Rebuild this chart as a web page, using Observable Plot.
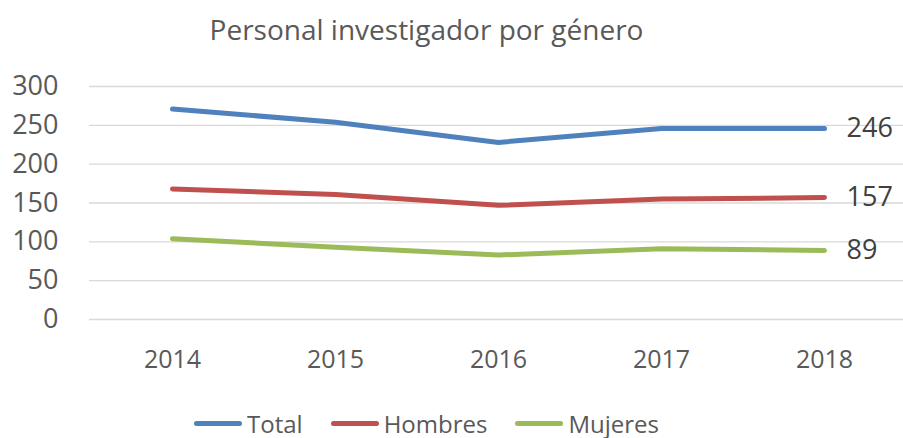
<!DOCTYPE html>
<html>
<head>
<meta charset="utf-8">
<script src="https://cdn.jsdelivr.net/npm/d3@7"></script>
<script src="https://cdn.jsdelivr.net/npm/@observablehq/plot@0.6"></script>
<style>
  body { margin: 0; background: #fff; font-family: "Open Sans", sans-serif; color: #595959; }
  #title { height: 60px; width: 853px; text-align: center; font-size: 28px; line-height: 58px; color: #595959; }
  #legend { width: 853px; height: 30px; padding-top: 18px; display: flex; justify-content: center; align-items: center; font-size: 24px; gap: 28px; }
  .item { display: flex; align-items: center; }
  .sw { width: 48px; height: 5px; border-radius: 3px; margin-right: 5px; }
</style>
</head>
<body>
<div id="title">Personal investigador por género</div>
<div id="chart"></div>
<div id="legend"></div>
<script>
const years = ["2014", "2015", "2016", "2017", "2018"];
const seriesNames = ["Total", "Hombres", "Mujeres"];
const total = [271, 254, 228, 246, 246];
const hombres = [168, 161, 147, 155, 157];
const mujeres = [104, 93, 83, 91, 89];
const colors = ["#4F81BD", "#C0504D", "#9BBB59"];
const yTicks = [0, 50, 100, 150, 200, 250, 300];

const values = [total, hombres, mujeres];
const data = [];
seriesNames.forEach((s, i) => years.forEach((y, j) => data.push({series: s, year: y, value: values[i][j]})));
const last = data.filter(d => d.year === years[years.length - 1]);

const chart = Plot.plot({
  width: 903,
  height: 330,
  marginTop: 26,
  marginBottom: 71,
  marginLeft: 89,
  marginRight: 0,
  style: {fontFamily: "Open Sans, sans-serif", color: "#595959", background: "#fff"},
  x: {type: "point", domain: years, padding: 0.5, range: [89, 906]},
  y: {domain: [0, 300]},
  color: {domain: seriesNames, range: colors},
  marks: [
    Plot.ruleY(yTicks, {stroke: "#D9D9D9", strokeWidth: 1.3}),
    Plot.axisY({ticks: yTicks, tickSize: 0, tickPadding: 31, fontSize: 27, label: null, fill: "#595959"}),
    Plot.axisX({tickSize: 0, tickPadding: 31, fontSize: 25, label: null, fill: "#595959"}),
    Plot.line(data, {x: "year", y: "value", z: "series", stroke: "series", strokeWidth: 5, strokeLinecap: "round", strokeLinejoin: "round"}),
    Plot.text(last, {x: "year", y: "value", text: d => String(d.value), dx: 22, textAnchor: "start", fontSize: 27, fill: "#404040"})
  ]
});
document.getElementById("chart").appendChild(chart);

const legend = document.getElementById("legend");
seriesNames.forEach((s, i) => {
  const it = document.createElement("div");
  it.className = "item";
  const sw = document.createElement("div");
  sw.className = "sw";
  sw.style.background = colors[i];
  const lb = document.createElement("span");
  lb.textContent = s;
  it.appendChild(sw); it.appendChild(lb);
  legend.appendChild(it);
});
</script>
</body>
</html>
